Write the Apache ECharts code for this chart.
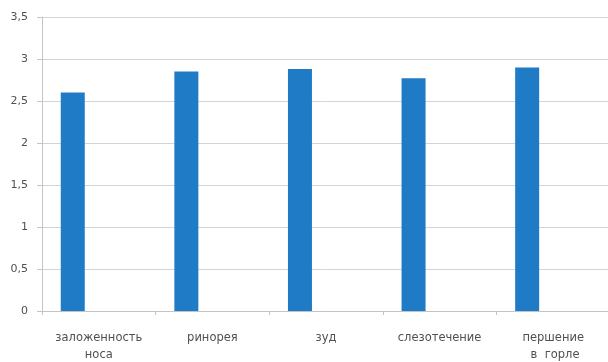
<!DOCTYPE html>
<html><head><meta charset="utf-8">
<script src="https://cdn.jsdelivr.net/npm/echarts@6/dist/echarts.min.js"></script>
<style>html,body{margin:0;padding:0;background:#fff}#c{width:608px;height:362px}</style>
</head><body><div id="c"></div>
<script>
const categories = ['заложенность\nноса', 'ринорея', 'зуд', 'слезотечение', 'першение\n в  горле'];
const values = [2.6, 2.85, 2.88, 2.77, 2.9];
const emptySeries = [null, null, null, null, null];
const yTicks = { min: 0, max: 3.5, interval: 0.5 };

const chart = echarts.init(document.getElementById('c'), null, { renderer: 'canvas' });
chart.setOption({
  animation: false,
  backgroundColor: '#ffffff',
  grid: { left: 42, top: 17, width: 568, bottom: 51, outerBoundsMode: 'none', containLabel: false },
  xAxis: {
    type: 'category',
    data: categories,
    axisLine: { lineStyle: { color: '#c4c4c4', width: 1 } },
    axisTick: { show: true, length: 4, lineStyle: { color: '#c4c4c4' } },
    axisLabel: { fontFamily: 'DejaVu Sans', fontSize: 11.5, color: '#505050', margin: 19, lineHeight: 17, interval: 0 }
  },
  yAxis: {
    type: 'value',
    min: yTicks.min, max: yTicks.max, interval: yTicks.interval,
    axisLine: { show: true, lineStyle: { color: '#c4c4c4', width: 1 } },
    axisTick: { show: true, length: 5, lineStyle: { color: '#c4c4c4' } },
    splitLine: { lineStyle: { color: '#d4d4d4', width: 1 } },
    axisLabel: {
      fontFamily: 'DejaVu Sans', fontSize: 11, color: '#505050', margin: 14,
      formatter: v => String(v).replace('.', ',')
    }
  },
  series: [
    { type: 'bar', data: values, barWidth: 24, barGap: '117%', itemStyle: { color: '#1f7bc6' } },
    { type: 'bar', data: emptySeries, barWidth: 24, itemStyle: { color: '#1f7bc6' } }
  ]
});
</script></body></html>
